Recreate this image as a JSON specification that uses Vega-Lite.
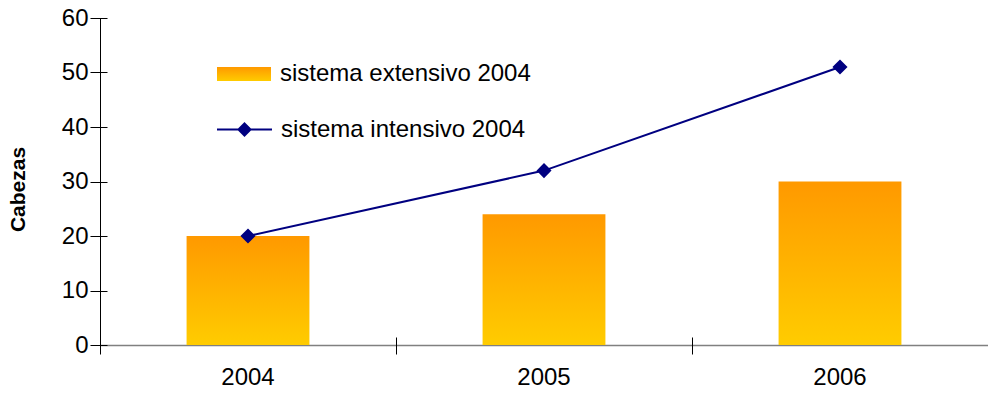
{
  "$schema": "https://vega.github.io/schema/vega-lite/v6.json",
  "autosize": "none",
  "width": 888,
  "height": 327,
  "padding": {"left": 100, "top": 18, "right": 0, "bottom": 49},
  "background": "white",
  "config": {
    "font": "Liberation Sans",
    "view": {"stroke": null},
    "axis": {"labelFont": "Liberation Sans", "titleFont": "Liberation Sans", "labelColor": "black", "tickColor": "black", "grid": false}
  },
  "data": {
    "values": [
      {"anio": "2004", "serie": "sistema extensivo 2004", "valor": 20},
      {"anio": "2005", "serie": "sistema extensivo 2004", "valor": 24},
      {"anio": "2006", "serie": "sistema extensivo 2004", "valor": 30},
      {"anio": "2004", "serie": "sistema intensivo 2004", "valor": 20},
      {"anio": "2005", "serie": "sistema intensivo 2004", "valor": 32},
      {"anio": "2006", "serie": "sistema intensivo 2004", "valor": 51}
    ]
  },
  "resolve": {"axis": {"x": "independent", "y": "independent"}},
  "layer": [
    {
      "transform": [{"filter": "datum.serie === 'sistema extensivo 2004'"}],
      "mark": {"type": "bar", "width": {"band": 0.415},
        "color": {"gradient": "linear", "x1": 0, "y1": 1, "x2": 0, "y2": 0, "stops": [{"offset": 0, "color": "#FFCC00"}, {"offset": 1, "color": "#FF9900"}]}},
      "encoding": {
        "x": {
          "field": "anio", "type": "nominal",
          "scale": {"paddingInner": 0, "paddingOuter": 0},
          "axis": {"title": null, "labelAngle": 0, "labelFontSize": 24, "ticks": false, "labelPadding": 20, "domainColor": "#808080", "domainWidth": 1.5}
        },
        "y": {
          "field": "valor", "type": "quantitative",
          "scale": {"domain": [0, 60], "nice": false},
          "axis": {"title": "Cabezas", "titleFontSize": 21, "titleFontWeight": "bold", "titleX": -82, "titleY": 171, "titleBaseline": "middle", "titleAngle": -90, "values": [0, 10, 20, 30, 40, 50, 60], "labelFontSize": 24, "ticks": false, "labelPadding": 12, "domainColor": "black"}
        },
        "opacity": {
          "field": "serie", "type": "nominal",
          "scale": {"domain": ["sistema extensivo 2004"], "range": [1]},
          "legend": {"title": null, "orient": "none", "legendX": 116, "legendY": 28, "labelFontSize": 24, "labelOffset": 8, "labelLimit": 500, "symbolSize": 2916, "symbolType": "M-1,-0.26H1V0.26H-1Z", "symbolStrokeColor": "black", "symbolStrokeWidth": 1.5, "labelColor": "black",
            "encode": {"symbols": {"stroke": {"value": "black"}, "strokeWidth": {"value": 1.5}, "strokeOpacity": {"value": 1}, "opacity": {"value": 1}}}}
        }
      }
    },
    {
      "transform": [{"filter": "datum.serie === 'sistema intensivo 2004'"}],
      "mark": {"type": "line", "color": "#000080", "strokeWidth": 2, "point": {"shape": "diamond", "filled": true, "size": 150, "color": "#000080"}},
      "encoding": {
        "x": {
          "field": "anio", "type": "nominal",
          "axis": {"title": null, "labels": false, "domain": false, "orient": "bottom", "tickBand": "extent", "tickSize": 17, "offset": -8, "tickColor": "black"}
        },
        "y": {
          "field": "valor", "type": "quantitative",
          "axis": {"title": null, "labels": false, "domain": false, "orient": "left", "values": [0, 10, 20, 30, 40, 50, 60], "tickSize": 17, "offset": -7, "tickColor": "black"}
        },
        "stroke": {
          "field": "serie", "type": "nominal",
          "scale": {"domain": ["sistema intensivo 2004"], "range": ["#000080"]},
          "legend": {"title": null, "orient": "none", "legendX": 116, "legendY": 83, "labelFontSize": 24, "labelOffset": 8, "labelLimit": 500, "symbolSize": 3025, "symbolType": "M-1,0H1M0,-0.22L0.22,0L0,0.22L-0.22,0Z", "symbolStrokeColor": "#000080", "symbolFillColor": "#000080", "symbolStrokeWidth": 2, "labelColor": "black"}
        }
      }
    }
  ]
}
